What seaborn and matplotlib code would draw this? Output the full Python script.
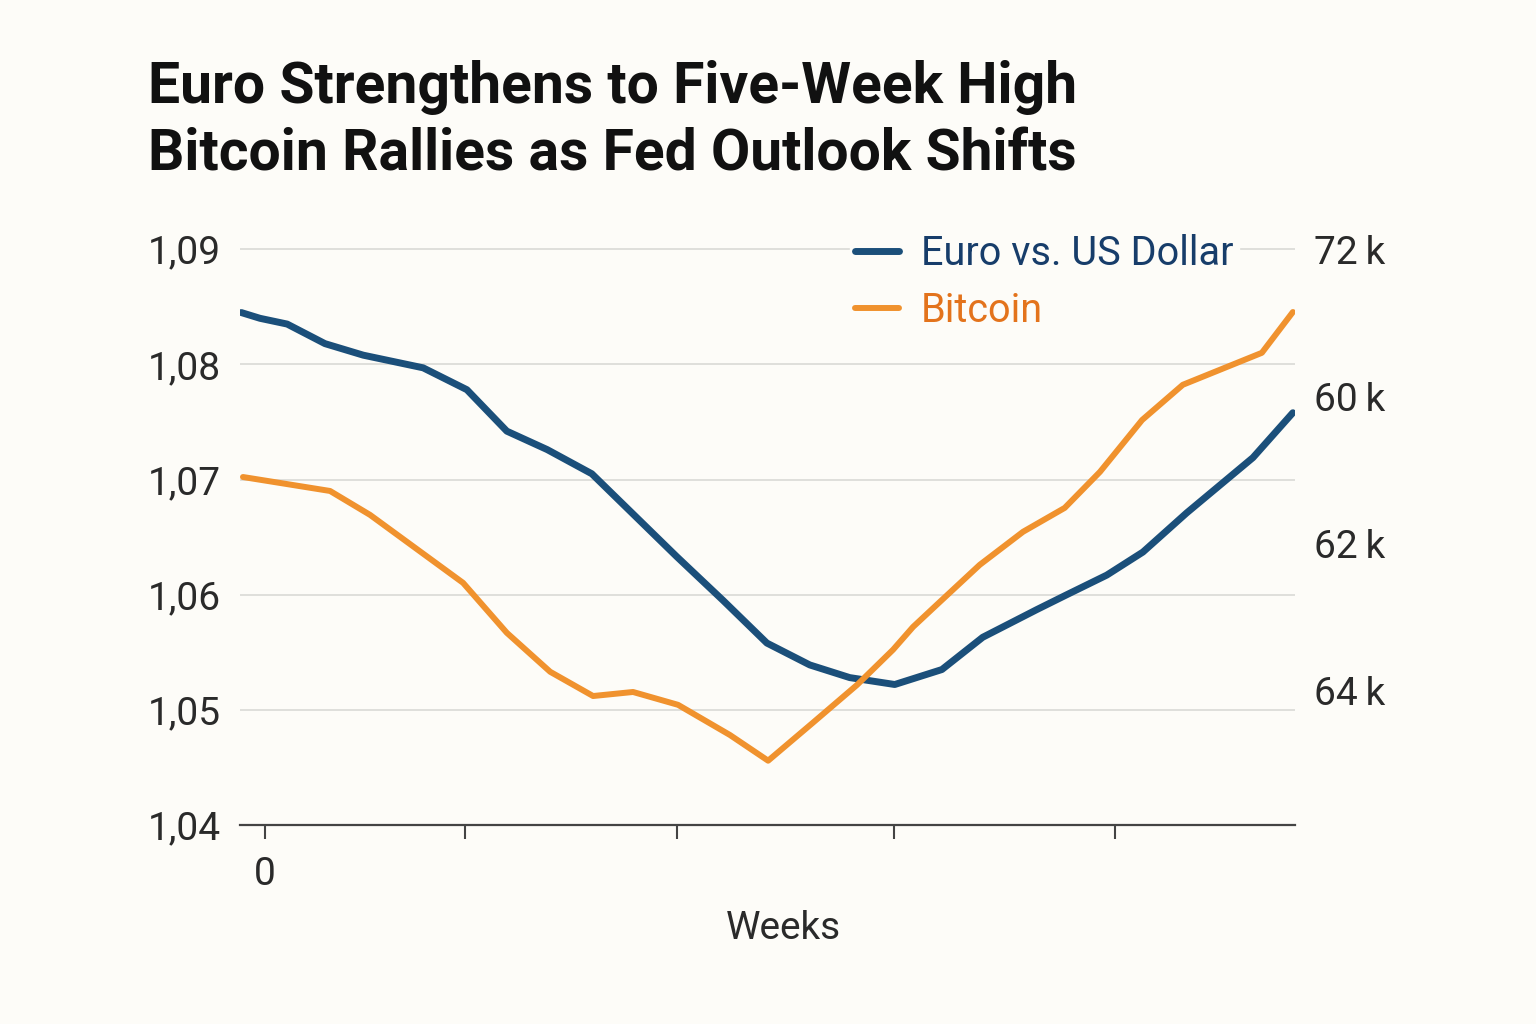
import matplotlib
matplotlib.use("Agg")
import matplotlib.pyplot as plt
import seaborn as sns
import pandas as pd

# ---- data ----
euro_weeks = [-0.56, -0.12, 0.52, 1.41, 2.31, 3.72, 4.75, 5.69, 6.64, 7.69, 9.69, 10.78,
              11.81, 12.82, 13.76, 14.82, 15.93, 16.89, 18.16, 18.87, 19.81, 20.66, 21.69,
              23.25, 24.19]
euro_values = [1.0845, 1.0840, 1.0835, 1.0818, 1.0808, 1.0797, 1.0778, 1.0742, 1.0726,
               1.0705, 1.0633, 1.0595, 1.0558, 1.0539, 1.0528, 1.0522, 1.0535, 1.0563,
               1.0587, 1.0600, 1.0617, 1.0637, 1.0671, 1.0719, 1.0758]
btc_weeks = [-0.52, 1.53, 2.47, 4.66, 5.69, 6.71, 7.72, 8.66, 9.72, 10.94, 11.84, 12.89,
             13.93, 14.78, 15.25, 15.88, 16.82, 17.84, 18.82, 19.65, 20.64, 21.60, 23.46,
             24.19]
btc_values = [65.82, 65.44, 64.79, 62.94, 61.58, 60.52, 59.86, 59.97, 59.62, 58.80, 58.10,
              59.13, 60.16, 61.12, 61.74, 62.42, 63.43, 64.33, 64.98, 65.96, 67.37, 68.33,
              69.20, 70.31]
left_ticks = [1.04, 1.05, 1.06, 1.07, 1.08, 1.09]
left_tick_labels = ["1,04", "1,05", "1,06", "1,07", "1,08", "1,09"]
right_ticks = [72, 68, 64, 60]
right_tick_labels = ["72\u2009k", "60\u2009k", "62\u2009k", "64\u2009k"]
x_ticks = [0, 4.7, 9.7, 14.8, 20]
x_tick_labels = ["0", "", "", "", ""]
title_text = "Euro Strengthens to Five-Week High\nBitcoin Rallies as Fed Outlook Shifts"
euro_label = "Euro vs. US Dollar"
btc_label = "Bitcoin"
x_label = "Weeks"

euro_df = pd.DataFrame({"week": euro_weeks, "value": euro_values})
btc_df = pd.DataFrame({"week": btc_weeks, "value": btc_values})

# ---- style ----
BG = "#fdfcf8"
BLUE = "#1b4f7a"
ORANGE = "#f0922e"
sns.set_style("white")
plt.rcParams["font.family"] = ["Roboto", "DejaVu Sans"]
plt.rcParams["text.color"] = "#222222"

fig = plt.figure(figsize=(15.36, 10.24), dpi=100, facecolor=BG)
ax = fig.add_axes([240 / 1536, 1 - 825 / 1024, (1295 - 240) / 1536, (825 - 240) / 1024])
ax.set_facecolor(BG)
ax2 = ax.twinx()

sns.lineplot(data=euro_df, x="week", y="value", ax=ax, color=BLUE, linewidth=5,
             solid_capstyle="round", solid_joinstyle="round", label=euro_label, legend=False)
sns.lineplot(data=btc_df, x="week", y="value", ax=ax2, color=ORANGE, linewidth=4.3,
             solid_capstyle="round", solid_joinstyle="round", label=btc_label, legend=False)

ax.set_xlim(-0.59, 24.24)
ax.set_ylim(1.04, 1.0908)
ax2.set_ylim(56.35, 72.27)

ax.set_yticks(left_ticks)
ax.set_yticklabels(left_tick_labels)
ax2.set_yticks(right_ticks)
ax2.set_yticklabels(right_tick_labels, family=["Roboto", "DejaVu Sans"])
ax.set_xticks(x_ticks)
ax.set_xticklabels(x_tick_labels)

ax.grid(axis="y", color="#dcdcd8", linewidth=1.3)
ax.set_axisbelow(True)
for a in (ax, ax2):
    for s in ("top", "left", "right", "bottom"):
        a.spines[s].set_visible(False)
ax.spines["bottom"].set_visible(True)
ax.spines["bottom"].set_color("#444444")
ax.spines["bottom"].set_linewidth(1.6)

ax.tick_params(axis="y", left=False, length=0, pad=14, labelsize=28, labelcolor="#2a2a2a")
ax2.tick_params(axis="y", right=False, length=0, pad=14, labelsize=28, labelcolor="#2a2a2a")
ax.tick_params(axis="x", bottom=True, length=10, width=1.5, color="#444444", pad=12,
               labelsize=28, labelcolor="#2a2a2a", direction="out")

ax.set_xlabel(x_label, fontsize=28, color="#2a2a2a")
ax.xaxis.set_label_coords(0.515, -0.145)
ax.set_ylabel("")
ax2.set_ylabel("")

h1, l1 = ax.get_legend_handles_labels()
h2, l2 = ax2.get_legend_handles_labels()
leg = ax2.legend(h1 + h2, l1 + l2, loc="upper right",
                 bbox_to_anchor=(1259 / 1536, 1 - 208 / 1024), bbox_transform=fig.transFigure,
                 fontsize=28.5, frameon=True, facecolor=BG, edgecolor=BG, framealpha=1,
                 handlelength=1.1, handletextpad=0.55, labelspacing=0.45, borderpad=0.15)
for txt, c in zip(leg.get_texts(), ["#173d6a", "#e3731c"]):
    txt.set_color(c)

fig.text(148 / 1536, 1 - 60 / 1024, title_text, fontsize=41, fontweight="bold",
         color="#111111", va="top", ha="left", linespacing=1.3)

fig.savefig("out.png", dpi=100, facecolor=BG)
